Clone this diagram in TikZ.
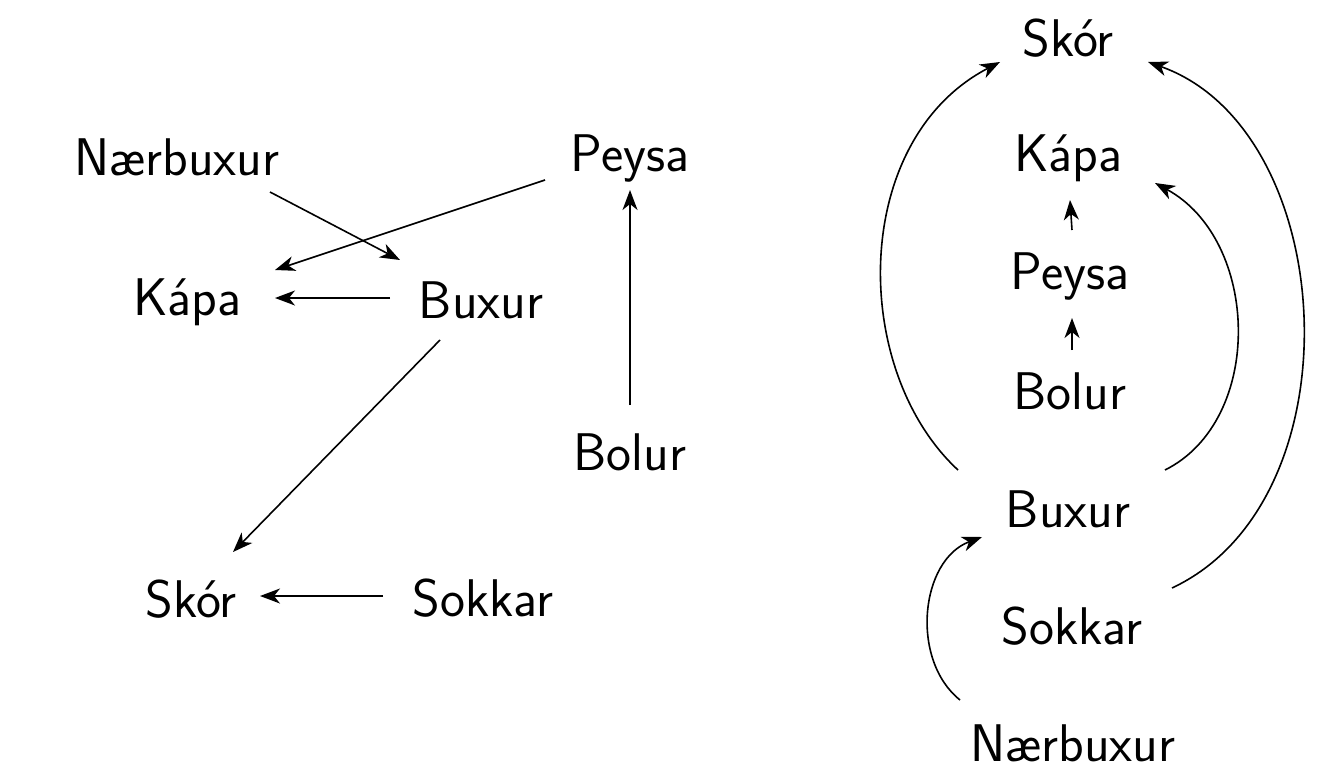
\documentclass[tikz,border=0pt]{standalone}
\usetikzlibrary{arrows.meta}
\begin{document}
\begin{tikzpicture}[x=1pt,y=-1pt,
  lbl/.style={font=\fontsize{53}{64}\sffamily\selectfont, anchor=base, inner sep=0pt},
  edge/.style={line width=1.6pt, -{Stealth[length=20pt,width=15pt,inset=6pt]}}]
\useasboundingbox (0,0) rectangle (1325,784);
% left
\node[lbl] (lnb) at (177,175) {Nærbuxur};
\node[lbl] (lpe) at (630,171) {Peysa};
\node[lbl] (lka) at (187,315) {Kápa};
\node[lbl] (lbx) at (481,318) {Buxur};
\node[lbl] (lbo) at (630,470) {Bolur};
\node[lbl] (lsk) at (191,617) {Skór};
\node[lbl] (lso) at (483,616) {Sokkar};
% right
\node[lbl] (rsk) at (1068,57) {Skór};
\node[lbl] (rka) at (1068,171) {Kápa};
\node[lbl] (rpe) at (1070,289) {Peysa};
\node[lbl] (rbo) at (1070,409) {Bolur};
\node[lbl] (rbx) at (1068,527) {Buxur};
\node[lbl] (rso) at (1072,644) {Sokkar};
\node[lbl] (rnb) at (1073,761) {Nærbuxur};
% left edges
\draw[edge] ([shift={(93,17)}]lnb.base) -- ([shift={(-81,-58)}]lbx.base);
\draw[edge] ([shift={(-85,9)}]lpe.base) -- ([shift={(88,-45)}]lka.base);
\draw[edge] ([shift={(-91,-20)}]lbx.base) -- ([shift={(88,-17)}]lka.base);
\draw[edge] ([shift={(0,-65)}]lbo.base) -- ([shift={(0,19)}]lpe.base);
\draw[edge] ([shift={(-41,22)}]lbx.base) -- ([shift={(42,-65)}]lsk.base);
\draw[edge] ([shift={(-100,-20)}]lso.base) -- ([shift={(69,-21)}]lsk.base);
% right edges
\draw[edge] ([shift={(2,-59)}]rbo.base) -- ([shift={(2,29)}]rpe.base);
\draw[edge] ([shift={(2,-59)}]rpe.base) -- ([shift={(2,29)}]rka.base);
\draw[edge] ([shift={(-110,-57)}]rbx.base) .. controls (850,370) and (850,140) .. ([shift={(-68,5)}]rsk.base);
\draw[edge] ([shift={(97,-57)}]rbx.base) .. controls (1265,420) and (1260,240) .. ([shift={(87,12)}]rka.base);
\draw[edge] ([shift={(100,-56)}]rso.base) .. controls (1360,500) and (1340,130) .. ([shift={(80,5)}]rsk.base);
\draw[edge] ([shift={(-113,-61)}]rnb.base) .. controls (910,660) and (920,560) .. ([shift={(-86,10)}]rbx.base);
\end{tikzpicture}
\end{document}
